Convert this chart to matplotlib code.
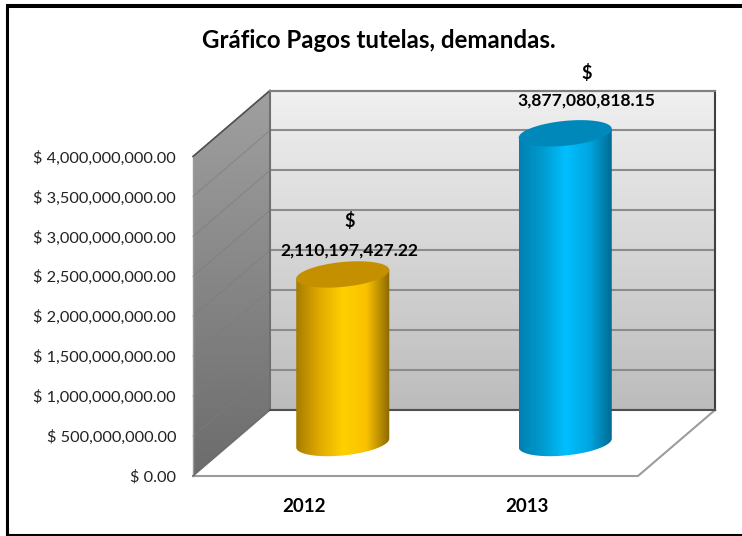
import numpy as np
import matplotlib
matplotlib.use("Agg")
import matplotlib.pyplot as plt
from matplotlib.patches import Polygon
from matplotlib.lines import Line2D
from matplotlib.colors import LinearSegmentedColormap

categories = ["2012", "2013"]
values = [2110197427.22, 3877080818.15]
value_labels = ["2,110,197,427.22", "3,877,080,818.15"]
ticks = [0, 5e8, 1e9, 1.5e9, 2e9, 2.5e9, 3e9, 3.5e9, 4e9]
tick_labels = ["$ 0.00", "$ 500,000,000.00", "$ 1,000,000,000.00", "$ 1,500,000,000.00",
               "$ 2,000,000,000.00", "$ 2,500,000,000.00", "$ 3,000,000,000.00",
               "$ 3,500,000,000.00", "$ 4,000,000,000.00"]
title = "Gráfico Pagos tutelas, demandas."
body_colors = [["#a67c00", "#e0aa00", "#ffd000", "#fac200", "#8a6800"],
               ["#0080b0", "#009bd0", "#00bfff", "#00a6e0", "#00688f"]]
top_colors = ["#c49000", "#0088bb"]

FONT = "Lato"
W, H = 742, 536
L, R, B, T = 193, 638, 476, 156.5
DX, DY = 77, 66

fig = plt.figure(figsize=(W / 100, H / 100), dpi=100, facecolor="white")
ax = fig.add_axes([L / W, (H - B) / H, (R - L) / W, (B - T) / H])
ax.set_xlim(-0.5, 1.5)
ax.set_ylim(0, 4e9)
ax.patch.set_visible(False)
for s in ax.spines.values():
    s.set_visible(False)
ux = 2 / (R - L)          # data per pixel, x
uy = 4e9 / (B - T)        # data per pixel, y
ddx, ddy = DX * ux, DY * uy
x0, x1, y1 = -0.5, 1.5, 4e9


def gradient(poly, colors, extent, vertical=True, z=1):
    cmap = LinearSegmentedColormap.from_list("g", colors)
    g = np.linspace(0, 1, 256)
    g = g[:, None] if vertical else g[None, :]
    im = ax.imshow(g, cmap=cmap, extent=extent, origin="upper" if vertical else "lower",
                   aspect="auto", zorder=z, interpolation="bilinear")
    patch = Polygon(poly, closed=True, transform=ax.transData, fill=False, edgecolor="none")
    ax.add_patch(patch)
    patch.set_clip_on(False)
    im.set_clip_path(patch)
    im.set_clip_box(fig.bbox)


def line(xs, ys, color, lw, z=2, alpha=None):
    ax.add_line(Line2D(xs, ys, color=color, lw=lw, zorder=z, clip_on=False, alpha=alpha))


# back wall
bw = [(x0 + ddx, ddy), (x1 + ddx, ddy), (x1 + ddx, y1 + ddy), (x0 + ddx, y1 + ddy)]
gradient(bw, ["#f0f0f0", "#bcbcbc"], (x0 + ddx, x1 + ddx, ddy, y1 + ddy))
# side wall
sw = [(x0, 0), (x0 + ddx, ddy), (x0 + ddx, y1 + ddy), (x0, y1)]
gradient(sw, ["#a0a0a0", "#6c6c6c"], (x0, x0 + ddx, 0, y1 + ddy))

for t in ticks:
    line([x0 + ddx, x1 + ddx], [t + ddy, t + ddy], "#8c8c8c", 1.5)
    line([x0, x0 + ddx], [t, t + ddy], "#7c7c7c", 0.9, alpha=0.55)
# wall edges
line([x0 + ddx, x0 + ddx], [ddy, y1 + ddy], "#707070", 1.5)
line([x1 + ddx, x1 + ddx], [ddy, y1 + ddy], "#404040", 1.5)
line([x0, x0 + ddx], [y1, y1 + ddy], "#505050", 1.2)
line([x0 + ddx, x1 + ddx], [y1 + ddy, y1 + ddy], "#808080", 1.5)
line([x0, x0], [0, y1], "#9a9a9a", 1.0)
# floor
ax.add_patch(Polygon([(x0, 0), (x1, 0), (x1 + ddx, ddy), (x0 + ddx, ddy)], closed=True,
                     facecolor="white", edgecolor="none", zorder=2.2, clip_on=False))
line([x0, x1, x1 + ddx], [0, 0, ddy], "#9c9c9c", 1.5, 2.3)
line([x0, x0 + ddx], [0, ddy], "#6a6a6a", 1.0, 2.3)
line([x0 + ddx, x1 + ddx], [ddy, ddy], "#505050", 1.5, 2.3)

# cylinders
a = 43.9 * ux
r = 0.2
tt = np.linspace(0, 2 * np.pi, 241)
for i, (v, c_body, c_top) in enumerate(zip(values, body_colors, top_colors)):
    cx = i + 0.5 * ddx
    cy = 0.5 * ddy
    ex = a * np.cos(tt) + r * ddx * np.sin(tt)
    ey = r * ddy * np.sin(tt)
    phi = np.arctan2(r * ddx / ux, a / ux)
    sx = np.hypot(a, r * ddx)
    sy = r * ddy * np.sin(phi)
    bot = np.linspace(np.pi + phi, 2 * np.pi + phi, 120)
    bx = cx + a * np.cos(bot) + r * ddx * np.sin(bot)
    by = cy + r * ddy * np.sin(bot)
    top = cy + v
    poly = list(zip(bx, by)) + [(cx + sx, top + sy), (cx - sx, top - sy)]
    gradient(poly, c_body, (cx - sx, cx + sx, cy - 2 * r * ddy, top + 2 * r * ddy), vertical=False, z=3)
    ax.add_patch(Polygon(list(zip(cx + ex, top + ey)), closed=True, facecolor=c_top,
                         edgecolor="none", zorder=4, clip_on=False))

ax.set_xlim(-0.5, 1.5)
ax.set_ylim(0, 4e9)

# labels
ax.set_xticks([0, 1], categories, fontfamily=FONT, fontsize=13.5, fontweight="bold", color="black")
ax.set_yticks(ticks, tick_labels, fontfamily=FONT, fontsize=11.8, color="#222222")
ax.tick_params(axis="both", length=0)
ax.tick_params(axis="x", pad=16)
ax.tick_params(axis="y", pad=12.2)
for lab in ax.get_yticklabels() + ax.get_xticklabels():
    lab.set_parse_math(False)

label_offsets = [6.5, 21.5]
dollar_y = [221, 73]
num_y = [251, 101]
for i, (txt, dy_, ny) in enumerate(zip(value_labels, dollar_y, num_y)):
    xc = i + 0.5 * ddx + label_offsets[i] * ux
    ax.text(xc, (B - dy_) * uy, "$", ha="center", va="center", fontfamily=FONT, fontsize=13,
            fontweight="bold", parse_math=False, zorder=6, clip_on=False)
    ax.text(xc, (B - ny) * uy, txt, ha="center", va="center", fontfamily=FONT, fontsize=12.6,
            fontweight="bold", zorder=6, clip_on=False)

fig.text(379 / W, 1 - 41 / H, title, ha="center", va="center", fontfamily=FONT, fontsize=17.3, fontweight="bold")

# outer frame (open on the right, where the picture is cut off)
for xs, ys, lw in [((7.5, 7.5), (4, 536), 2.2), ((6, 742), (6, 6), 2.9), ((6, 742), (535, 535), 1.5)]:
    fig.add_artist(Line2D([p / W for p in xs], [1 - p / H for p in ys], transform=fig.transFigure,
                          color="black", lw=lw, solid_capstyle="butt"))
fig.savefig("out.png", dpi=100)
